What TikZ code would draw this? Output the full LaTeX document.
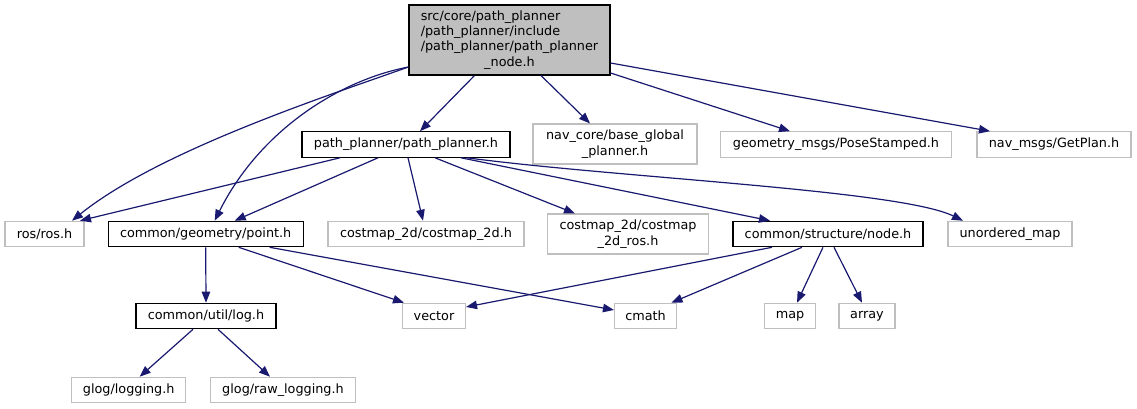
\documentclass[tikz,border=0pt]{standalone}
\usepackage{fontspec}
\setmainfont{DejaVu Sans}
\usetikzlibrary{arrows.meta}
\definecolor{edgeblue}{HTML}{191970}
\definecolor{boxgray}{HTML}{BFBFBF}

\begin{document}
\begin{tikzpicture}[x=1pt,y=-1pt,
        file/.style={draw=black,line width=1.1pt,inner sep=0pt,minimum height=25.5pt,
            font=\fontsize{12.8}{15.3}\selectfont},
        ext/.style={file,draw=boxgray},
        dep/.style={->,edgeblue,line width=1.2pt},
        >={Triangle[length=11pt,width=8.5pt]}]
        \useasboundingbox (0,0) rectangle (1137,409);
        \node[file,fill=boxgray,minimum width=201pt,minimum height=70pt] (root) at (509.5,40)
            {\begin{tabular}{@{}l@{}}src/core/path\_planner\\/path\_planner/include\\/path\_planner/path\_planner\\\multicolumn{1}{@{}c@{}}{\_node.h}\end{tabular}};
        \node[file,minimum width=208pt] (pp) at (406,144.5) {path\_planner/path\_planner.h};
        \node[ext,minimum width=164pt,minimum height=40pt,align=center] (nav) at (615,144) {nav\_core/base\_global\\\_planner.h};
        \node[ext,minimum width=231pt] (pose) at (836,144.5) {geometry\_msgs/PoseStamped.h};
        \node[ext,minimum width=154pt] (plan) at (1054,144.5) {nav\_msgs/GetPlan.h};
        \node[ext,minimum width=79pt] (ros) at (44.5,234) {ros/ros.h};
        \node[file,minimum width=195pt] (pt) at (205.7,234) {common/geometry/point.h};
        \node[ext,minimum width=196pt] (cm) at (426,234) {costmap\_2d/costmap\_2d.h};
        \node[ext,minimum width=161pt,minimum height=40pt,align=center] (cmros) at (628,234) {costmap\_2d/costmap\\\_2d\_ros.h};
        \node[file,minimum width=190pt] (nd) at (828,234) {common/structure/node.h};
        \node[ext,minimum width=124pt] (umap) at (1010,234) {unordered\_map};
        \node[file,minimum width=140pt] (log) at (206,316) {common/util/log.h};
        \node[ext,minimum width=63pt] (vec) at (434,316) {vector};
        \node[ext,minimum width=62pt] (cmath) at (645.5,316) {cmath};
        \node[ext,minimum width=51pt] (map) at (790,316) {map};
        \node[ext,minimum width=56pt] (arr) at (867,316) {array};
        \node[ext,minimum width=114pt] (glog) at (128.7,390) {glog/logging.h};
        \node[ext,minimum width=145pt] (rawlog) at (283,390) {glog/raw\_logging.h};
        \draw[dep] ([xshift=-35pt]root.south) -- ([xshift=14pt]pp.north);
        \draw[dep] ([yshift=-27pt]root.west) .. controls (330,95) and (160,150) .. ([xshift=27.5pt]ros.north);
        \draw[dep] ([yshift=-27pt]root.west) .. controls (340,80) and (260,130) .. ([xshift=9pt]pt.north);
        \draw[dep] ([xshift=31.5pt]root.south) -- ([xshift=-25pt]nav.north);
        \draw[dep] ([yshift=-33pt]root.east) -- ([xshift=-46pt]pose.north);
        \draw[dep] ([yshift=-23pt]root.east) -- ([xshift=-64pt]plan.north);
        \draw[dep] ([xshift=-66pt]pp.south) -- ([xshift=35.5pt]ros.north);
        \draw[dep] ([xshift=-28pt]pp.south) -- ([xshift=29pt]pt.north);
        \draw[dep] ([xshift=2pt]pp.south) -- ([xshift=-3pt]cm.north);
        \draw[dep] ([xshift=29pt]pp.south) -- ([xshift=-53pt]cmros.north);
        \draw[dep] ([xshift=55pt]pp.south) -- ([xshift=-58pt]nd.north);
        \draw[dep] ([xshift=61pt]pp.south) .. controls (620,178) and (900,190) .. ([xshift=-47pt]umap.north);
        \draw[dep] (pt.south) -- (log.north);
        \draw[dep] ([xshift=33pt]pt.south) -- ([xshift=2pt]vec.north west);
        \draw[dep] ([xshift=64pt]pt.south) -- ([yshift=6pt]cmath.west);
        \draw[dep] ([xshift=-56pt]nd.south) -- ([yshift=9pt]vec.east);
        \draw[dep] ([xshift=-26pt]nd.south) -- ([xshift=26pt]cmath.north);
        \draw[dep] ([xshift=-5pt]nd.south) -- ([xshift=7pt]map.north);
        \draw[dep] ([xshift=6pt]nd.south) -- ([xshift=-5pt]arr.north);
        \draw[dep] ([xshift=-13pt]log.south) -- ([xshift=11pt]glog.north);
        \draw[dep] ([xshift=12pt]log.south) -- ([xshift=-13pt]rawlog.north);
    \end{tikzpicture}
\end{document}
